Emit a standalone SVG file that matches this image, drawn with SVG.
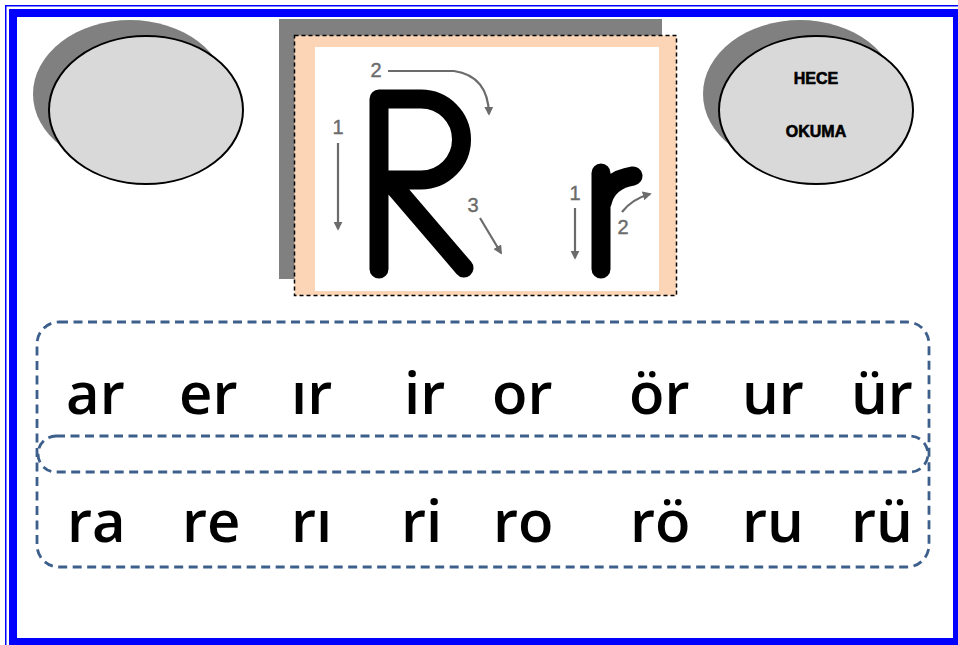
<svg xmlns="http://www.w3.org/2000/svg" width="958" height="645" viewBox="0 0 958 645">
<style>
.shadow{fill:#808080}
.oval{fill:#d9d9d9;stroke:#000;stroke-width:2}
.lbl{font-family:"Liberation Sans",Arial,sans-serif;font-weight:bold;font-size:16px;fill:#000;stroke:#000;stroke-width:0.6;text-anchor:middle}
.band{fill:none;stroke:#3d5f8c;stroke-width:2.8;stroke-dasharray:9 5.5}
.syl{font-family:"Open Sans","Liberation Sans",sans-serif;font-weight:600;font-size:58px;fill:#000}
.guide{fill:none;stroke:#6b6b6b;stroke-width:2.2}
.num{font-family:"Liberation Sans",Arial,sans-serif;font-size:20px;fill:#6b6b6b;stroke:#6b6b6b;stroke-width:0.4;text-anchor:middle}
.letter{fill:none;stroke:#000;stroke-width:19;stroke-linecap:round;stroke-linejoin:round}
</style>
<defs>
<marker id="ah2" viewBox="0 0 10 10" refX="8" refY="5" markerWidth="9" markerHeight="9" orient="auto" markerUnits="userSpaceOnUse">
<path d="M0,0 L10,5 L0,10 z" fill="#6b6b6b"/>
</marker>
</defs>
<rect width="958" height="645" fill="#fff"/>
<g id="border">
<rect x="5.75" y="5.75" width="960" height="650" fill="none" stroke="#0000ff" stroke-width="1.5"/>
<rect x="13" y="13" width="944" height="629" fill="none" stroke="#0000ff" stroke-width="8"/>
</g>
<g id="oval-left">
<ellipse class="shadow" cx="130" cy="94" rx="97" ry="74"/>
<ellipse class="oval" cx="146" cy="110" rx="97" ry="74"/>
</g>
<g id="oval-right">
<ellipse class="shadow" cx="800" cy="94" rx="97" ry="74"/>
<ellipse class="oval" cx="816" cy="110" rx="97" ry="74"/>
<text class="lbl" x="816" y="84">HECE</text>
<text class="lbl" x="816" y="137">OKUMA</text>
</g>
<g id="letter-card">
<rect class="shadow" x="279" y="19" width="383" height="260"/>
<rect x="294.5" y="35.5" width="382" height="260" fill="#fbd5b5" stroke="#000" stroke-width="1.5" stroke-dasharray="4 3"/>
<rect x="315" y="47" width="344" height="244" fill="#fff"/>
<path class="letter" d="M379,269 V99 H421 A40.5,40.5 0 0 1 421,180 H379 M392,184 L464,268"/>
<path class="letter" d="M601,269 V173 M602,203 Q607,180 633,176" stroke-width="17"/>
<text class="num" x="376" y="77">2</text>
<path class="guide" d="M388,71 H454 Q488,76 489,114" marker-end="url(#ah2)"/>
<text class="num" x="338" y="134">1</text>
<path class="guide" d="M338,143 V229" marker-end="url(#ah2)"/>
<text class="num" x="473" y="212">3</text>
<path class="guide" d="M480,218 L501,253" marker-end="url(#ah2)"/>
<text class="num" x="575" y="200">1</text>
<path class="guide" d="M575,208 V258" marker-end="url(#ah2)"/>
<text class="num" x="623" y="234">2</text>
<path class="guide" d="M622,212 Q632,199 650,194" marker-end="url(#ah2)"/>
</g>
<g id="syllable-panel">
<rect class="band" x="37" y="322" width="892" height="245" rx="22" ry="22"/>
<rect class="band" x="38" y="436" width="890" height="36" rx="18" ry="18"/>
</g>
<g id="row1">
<text class="syl" x="66" y="414">ar</text>
<text class="syl" x="179" y="414">er</text>
<text class="syl" x="291" y="414">ır</text>
<text class="syl" x="404" y="414">ir</text>
<text class="syl" x="492" y="414">or</text>
<text class="syl" x="629" y="414">ör</text>
<text class="syl" x="742" y="414">ur</text>
<text class="syl" x="851" y="414">ür</text>
</g>
<g id="row2">
<text class="syl" x="67" y="542">ra</text>
<text class="syl" x="182" y="542">re</text>
<text class="syl" x="291" y="542">rı</text>
<text class="syl" x="401" y="542">ri</text>
<text class="syl" x="493" y="542">ro</text>
<text class="syl" x="630" y="542">rö</text>
<text class="syl" x="742" y="542">ru</text>
<text class="syl" x="851" y="542">rü</text>
</g>
</svg>
